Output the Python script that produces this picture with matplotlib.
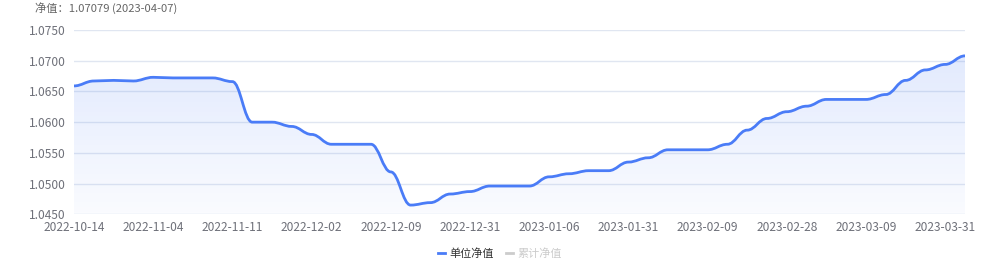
import matplotlib
matplotlib.use("Agg")
import matplotlib.pyplot as plt
import numpy as np
from matplotlib.path import Path
from matplotlib.patches import PathPatch
from matplotlib.lines import Line2D

plt.rcParams['font.family'] = ['Noto Sans CJK SC', 'DejaVu Sans']

dates = [
    "2022-10-14", "2022-10-21", "2022-10-28", "2022-10-31",
    "2022-11-04", "2022-11-07", "2022-11-09", "2022-11-10",
    "2022-11-11", "2022-11-18", "2022-11-25", "2022-11-30",
    "2022-12-02", "2022-12-05", "2022-12-07", "2022-12-08",
    "2022-12-09", "2022-12-16", "2022-12-23", "2022-12-30",
    "2022-12-31", "2023-01-03", "2023-01-04", "2023-01-05",
    "2023-01-06", "2023-01-13", "2023-01-20", "2023-01-27",
    "2023-01-31", "2023-02-03", "2023-02-06", "2023-02-08",
    "2023-02-09", "2023-02-10", "2023-02-17", "2023-02-24",
    "2023-02-28", "2023-03-03", "2023-03-06", "2023-03-08",
    "2023-03-09", "2023-03-10", "2023-03-17", "2023-03-24",
    "2023-03-31", "2023-04-07",
]
nav = [
    1.0659, 1.0667, 1.0668, 1.0667,
    1.0673, 1.0672, 1.0672, 1.0672,
    1.0666, 1.0600, 1.0600, 1.0593,
    1.0580, 1.0564, 1.0564, 1.0564,
    1.0519, 1.0465, 1.0469, 1.0483,
    1.0487, 1.0496, 1.0496, 1.0496,
    1.0511, 1.0516, 1.0521, 1.0521,
    1.0535, 1.0542, 1.0555, 1.0555,
    1.0555, 1.0564, 1.0587, 1.0606,
    1.0617, 1.0626, 1.0637, 1.0637,
    1.0637, 1.0645, 1.0668, 1.0685,
    1.0694, 1.07079,
]
y_ticks = [1.0450, 1.0500, 1.0550, 1.0600, 1.0650, 1.0700, 1.0750]
title_text = "净值：1.07079 (2023-04-07)"
legend_labels = ["单位净值", "累计净值"]

LINE = "#4a7cf7"
GRID = "#E0E6F1"
TXT = "#6E7079"

fig = plt.figure(figsize=(10, 2.65), dpi=100)
ax = fig.add_axes([0.074, 1 - 214.3 / 265, 0.891, (214.3 - 30) / 265])

n = len(nav)
xs = np.arange(n, dtype=float)
ys = np.array(nav, dtype=float)

# x-monotone smooth bezier: horizontal tangents at each point
smooth = 0.4
verts = [(xs[0], ys[0])]
codes = [Path.MOVETO]
for i in range(n - 1):
    dx = xs[i + 1] - xs[i]
    verts += [(xs[i] + dx * smooth, ys[i]), (xs[i + 1] - dx * smooth, ys[i + 1]),
              (xs[i + 1], ys[i + 1])]
    codes += [Path.CURVE4] * 3
verts = np.array(verts, dtype=float)
line_path = Path(verts, codes)

area_verts = np.vstack([verts, [[n - 1, y_ticks[0]], [0, y_ticks[0]], [0, verts[0, 1]]]])
area_codes = codes + [Path.LINETO, Path.LINETO, Path.CLOSEPOLY]
area_patch = PathPatch(Path(area_verts, area_codes), facecolor="none", edgecolor="none",
                       transform=ax.transData)
ax.add_patch(area_patch)

ymax = ys.max()
grad = np.zeros((256, 1, 4))
t = np.linspace(0, 1, 256)
grad[:, 0, 0] = 0.29
grad[:, 0, 1] = 0.486
grad[:, 0, 2] = 0.969
grad[:, 0, 3] = 0.16 * (1 - t) + 0.03 * t
im = ax.imshow(grad, extent=[0, n - 1, y_ticks[0], ymax], aspect="auto",
               origin="upper", zorder=1, interpolation="bilinear")
im.set_clip_path(area_patch)

ax.add_patch(PathPatch(line_path, facecolor="none", edgecolor=LINE, lw=2.0,
                       transform=ax.transData, zorder=3, capstyle="round", joinstyle="round"))
ax.set_xlim(0, n - 1)
ax.set_ylim(y_ticks[0], y_ticks[-1])

for yt in y_ticks:
    ax.axhline(yt, color=GRID, lw=1, zorder=0)

for sp in ax.spines.values():
    sp.set_visible(False)

ax.set_yticks(y_ticks)
ax.set_yticklabels([f"{v:.4f}" for v in y_ticks])
tick_idx = list(range(0, n, 4))
ax.set_xticks(tick_idx)
ax.set_xticklabels([dates[i] for i in tick_idx])
ax.tick_params(axis="both", length=0, colors=TXT, labelsize=8.6)
ax.tick_params(axis="y", pad=6)
ax.tick_params(axis="x", pad=5)

fig.text(0.035, 1 - 8 / 265, title_text, ha="left", va="center", color="#666666", fontsize=8.1)

h1 = Line2D([], [], color=LINE, lw=2)
h2 = Line2D([], [], color="#cccccc", lw=2)
leg = fig.legend([h1, h2], legend_labels, loc="center", bbox_to_anchor=(0.5, 1 - 254 / 265),
                 ncol=2, frameon=False, fontsize=8.0, handlelength=0.6, handletextpad=0.4,
                 columnspacing=1.1)
leg.get_texts()[0].set_color("#333333")
leg.get_texts()[1].set_color("#cccccc")

fig.savefig("out.png", dpi=100, facecolor="white")
